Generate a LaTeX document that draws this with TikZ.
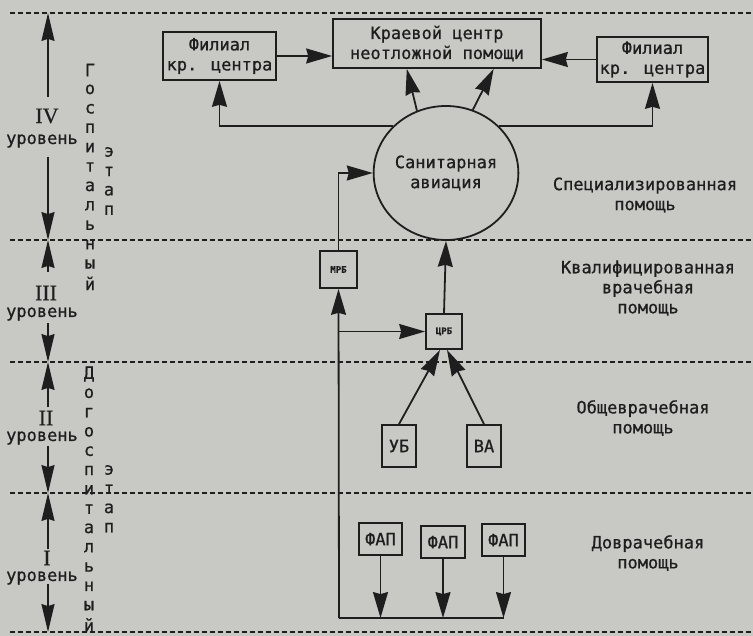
\documentclass[tikz,border=0pt]{standalone}
\usepackage{fontspec}
\setmainfont{DejaVu Sans Mono}[FakeBold=0.7]
\newfontfamily\romfont{Liberation Serif}[FakeBold=0.5]
\usetikzlibrary{arrows.meta,shapes.geometric,calc}
\definecolor{ink}{RGB}{30,30,30}
\definecolor{paper}{RGB}{200,200,197}
\tikzset{
  txt/.style={font=\fontsize{17bp}{20bp}\selectfont, text=ink, align=center, inner sep=0},
  rom/.style={font=\romfont\fontsize{22bp}{24bp}\selectfont, text=ink, inner sep=0},
  box/.style={draw=ink, line width=1.8bp, txt, inner sep=0},
  tiny/.style={draw=ink, line width=1.8bp, font=\fontsize{9bp}{10bp}\selectfont\bfseries, text=ink, inner sep=0},
  arr/.style={draw=ink, line width=1.8bp, arrows={-Stealth[length=26pt,width=15pt,inset=2pt]}},
  larr/.style={draw=ink, line width=1.8bp, arrows={-Stealth[length=28pt,width=13pt,inset=2pt]}},
  ln/.style={draw=ink, line width=1.8bp},
  dline/.style={draw=ink, line width=1.4bp, dash pattern=on 5bp off 3bp},
  vt/.style={font=\fontsize{17bp}{20bp}\selectfont, text=ink, inner sep=0},
}
\begin{document}
\begin{tikzpicture}[x=1bp,y=-1bp]
\fill[paper] (0,0) rectangle (753,636);
\useasboundingbox (0,0) rectangle (753,636);

% dashed level lines
\foreach \yy in {13,240,362,493,632} \draw[dline] (10,\yy) -- (753,\yy);

% level labels
\node[rom] (iv) at (47,116) {IV};
\node[txt] (u4) at (42,141) {уровень};
\node[rom] (iii) at (46,293) {III};
\node[txt] (u3) at (42,314) {уровень};
\node[rom] (ii) at (46,418) {II};
\node[txt] (u2) at (42,438) {уровень};
\node[rom] (i1) at (47,558) {I};
\node[txt] (u1) at (42,578) {уровень};

\draw[larr] (48,97) -- (48,13);
\draw[larr] (48,157) -- (48,240);
\draw[larr] (48,272) -- (48,240);
\draw[larr] (48,323) -- (48,362);
\draw[larr] (48,407) -- (48,362);
\draw[larr] (48,446) -- (48,493);
\draw[larr] (48,549) -- (48,493);
\draw[larr] (48,584) -- (48,632);

% vertical words
\foreach \c [count=\i] in {Г,о,с,п,и,т,а,л,ь,н,ы,й}
  \node[vt] (g\i) at (90,{70+19.4*(\i-1)}) {\c};
\foreach \c [count=\i] in {э,т,а,п}
  \node[vt] (e\i) at (109,{152+19.4*(\i-1)}) {\c};
\foreach \c [count=\i] in {Д,о,г,о,с,п,и,т,а,л,ь,н,ы,й}
  \node[vt] (d\i) at (89,{374+19.3*(\i-1)}) {\c};
\foreach \c [count=\i] in {э,т,а,п}
  \node[vt] (f\i) at (109,{470+19.2*(\i-1)}) {\c};

% top level
\node[box, minimum width=208bp, minimum height=49bp] (kc) at (437,43.5) {Краевой центр\\неотложной помощи};
\node[box, minimum width=113bp, minimum height=48bp] (lf) at (219.5,56) {Филиал\\кр. центра};
\node[box, minimum width=111bp, minimum height=45bp] (rf) at (652.5,59.5) {Филиал\\кр. центра};
\node[ellipse, draw=ink, line width=1.8bp, minimum width=112bp, minimum height=134bp, inner sep=0, txt] (sa) at (446,173) {Санитарная\\авиация};

\draw[arr] (lf.east) -- (lf.east -| kc.west);
\draw[arr] (rf.west) -- (rf.west -| kc.east);
\draw[arr] (sa.115) -- ($(kc.south west)!0.356!(kc.south east)$);
\draw[arr] (sa.67) -- ($(kc.south west)!0.77!(kc.south east)$);
\draw[arr] (sa.138) -| (lf.south);
\draw[arr] (sa.42) -| (rf.south);

% hospitals
\node[tiny, minimum width=37bp, minimum height=37bp] (mrb) at (338.5,269.5) {МРБ};
\node[tiny, minimum width=36bp, minimum height=35bp] (crb) at (444,331.5) {ЦРБ};
\node[box, minimum width=34bp, minimum height=42bp] (ub) at (399,446) {УБ};
\node[box, minimum width=34bp, minimum height=42bp] (va) at (484,446) {ВА};
\node[box, minimum width=43bp, minimum height=32bp] (fa1) at (380.5,539) {ФАП};
\node[box, minimum width=44bp, minimum height=32bp] (fa2) at (443,542) {ФАП};
\node[box, minimum width=43bp, minimum height=32bp] (fa3) at (503.5,540) {ФАП};

\coordinate (bl) at (339,618);
\coordinate (jn) at (mrb.south |- crb.west);
\draw[arr] (mrb.north) |- (sa.west);
\draw[arr] (crb.north) -- (sa.south);
\draw[arr] (bl) -- (mrb.south);
\draw[arr] (jn) -- (crb.west);
\draw[arr] (ub.north) -- ([xshift=-4bp]crb.south);
\draw[arr] (va.north) -- ([xshift=3bp]crb.south);
\draw[ln] (bl) -- (fa3.south |- bl);
\draw[arr] (fa1.south) -- (fa1.south |- bl);
\draw[arr] (fa2.south) -- (fa2.south |- bl);
\draw[arr] (fa3.south) -- (fa3.south |- bl);

% right labels
\node[txt, align=center] (l4) at (645,195) {Специализированная\\помощь};
\node[txt, align=center] (l3) at (648,288) {Квалифицированная\\врачебная\\помощь};
\node[txt, align=center] (l2) at (643,418) {Общеврачебная\\помощь};
\node[txt, align=center] (l1) at (648,553) {Доврачебная\\помощь};
\end{tikzpicture}
\end{document}
